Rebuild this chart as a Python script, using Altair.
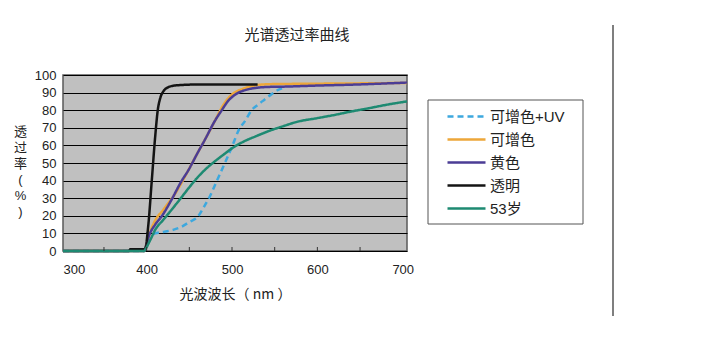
import altair as alt
import pandas as pd

FONT = "Liberation Sans, Noto Sans CJK SC, sans-serif"
CJK = "Noto Sans CJK SC, sans-serif"

series_names = ["可增色+UV", "可增色", "黄色", "透明", "53岁"]
colors = ["#3da8de", "#eda73a", "#4b3d95", "#141414", "#1e8a72"]
dashes = [[6, 4], [1, 0], [1, 0], [1, 0], [1, 0]]

uv_nm = [300, 397, 398, 404, 410, 421, 431, 441, 450, 460, 467, 474, 481, 488, 494, 500, 508, 516, 523, 530, 538, 546, 554, 560]
uv_t = [0, 0, 1, 7, 10, 11, 12, 13.8, 16.5, 19.5, 25, 31, 38.5, 46, 52.5, 59.3, 68.8, 74.4, 80, 83, 86, 89, 91.5, 92.6]

orange_nm = [300, 397, 398, 405, 412, 418, 425, 432, 440, 449, 460, 468, 480, 488, 495, 503, 512, 520, 530, 545, 580, 640, 705]
orange_t = [0, 0, 1, 12, 19, 22.5, 27, 31.5, 38, 46, 56, 63, 74, 81.5, 86.5, 90, 92, 93.3, 94.3, 94.8, 95, 95.2, 95.5]

yellow_nm = [300, 397, 398, 403, 410, 418, 429, 440, 449, 460, 468, 480, 488, 495, 503, 510, 519, 530, 542, 562, 600, 640, 680, 705]
yellow_t = [0, 0, 1, 9, 15, 20, 29, 39, 46, 56, 63, 74, 80, 85, 88.6, 90.5, 91.9, 92.8, 93.2, 93.4, 94, 94.5, 95.2, 95.7]

clear_nm = [300, 379, 381, 396, 398, 402, 406, 410, 413, 416, 420, 425, 430, 440, 460, 500, 530]
clear_t = [0, 0, 1, 1, 1, 15, 40, 65, 80, 87, 91, 93, 93.8, 94.3, 94.6, 94.6, 94.6]

age_nm = [300, 397, 398, 404, 410, 420, 429, 440, 449, 460, 468, 480, 488, 503, 515, 527, 545, 558, 577, 600, 620, 640, 659, 680, 705]
age_t = [0, 0, 0.6, 6, 12, 18, 23.3, 30, 35.6, 42, 46, 51, 54, 59.3, 62.5, 65, 68.5, 70.6, 73.5, 75.5, 77.3, 79.3, 81, 83, 85]

x_domain = [302, 705]
x_labels = [302, 400, 500, 600, 700]
x_ticks = [350, 400, 450, 500, 550, 600, 650]
y_labels = list(range(0, 101, 10))

rows = []
for name, nm, t in [
    (series_names[0], uv_nm, uv_t),
    (series_names[1], orange_nm, orange_t),
    (series_names[2], yellow_nm, yellow_t),
    (series_names[3], clear_nm, clear_t),
    (series_names[4], age_nm, age_t),
]:
    for a, b in zip(nm, t):
        rows.append({"series": name, "nm": a, "t": b})
df = pd.DataFrame(rows)

W, H = 344, 176

xscale = alt.Scale(domain=x_domain, nice=False, zero=False, clamp=True)
yscale = alt.Scale(domain=[0, 100], nice=False)

xaxis = alt.Axis(values=x_labels, tickSize=0, grid=False, domain=False,
                 labelExpr="datum.value < 350 ? '300' : datum.label",
                 labelPadding=12, labelFontSize=13, labelFont=FONT, labelColor="#222",
                 title="光波波长（ nm ）", titleFont=CJK, titleFontSize=14,
                 titleFontWeight="normal", titleColor="#222", titlePadding=11)
yaxis = alt.Axis(values=y_labels, tickSize=0, grid=True, gridColor="#000000",
                 gridWidth=1, gridOpacity=1, domain=False, labelPadding=7,
                 labelFontSize=13, labelFont=FONT, labelColor="#222",
                 title=["透", "过", "率", "(", "%", ")"], titleFont=FONT,
                 titleFontSize=13, titleFontWeight="normal", titleColor="#222",
                 titleAngle=0, titleAlign="center", titleBaseline="top",
                 titleX=-43, titleY=50, titleLineHeight=16)

color_scale = alt.Scale(domain=series_names, range=colors)
dash_scale = alt.Scale(domain=series_names, range=dashes)

legend = alt.Legend(title=None, orient="none", legendX=365, legendY=26,
                    padding=8,
                    labelFontSize=15, labelFont=FONT, labelColor="#222",
                    symbolType="M-1,0H6.6", symbolSize=100,
                    symbolStrokeWidth=2.5, symbolOffset=9, labelOffset=30,
                    rowPadding=7)

legend_box = alt.Chart(pd.DataFrame({"a": [0]})).mark_rect(
    fill="white", stroke="#555555", strokeWidth=1
).encode(
    x=alt.value(365), x2=alt.value(520),
    y=alt.value(25), y2=alt.value(149),
)

layers = []
for i, name in enumerate(series_names):
    layer = alt.Chart(df).transform_filter(alt.datum.series == name).mark_line(
        strokeWidth=2.5, interpolate="monotone"
    ).encode(
        x=alt.X("nm:Q", scale=xscale, axis=xaxis),
        y=alt.Y("t:Q", scale=yscale, axis=yaxis),
        color=alt.Color("series:N", scale=color_scale, legend=legend, sort=series_names),
        strokeDash=alt.StrokeDash("series:N", scale=dash_scale, legend=legend, sort=series_names),
    )
    layers.append(layer)

ticks = alt.Chart(pd.DataFrame({"nm": x_ticks})).mark_rule(
    color="#333", strokeWidth=1
).encode(
    x=alt.X("nm:Q", scale=xscale, axis=xaxis),
    y=alt.value(H),
    y2=alt.value(H - 4),
)

vline = alt.Chart(pd.DataFrame({"a": [0]})).mark_rule(
    color="#555555", strokeWidth=1.5
).encode(
    x=alt.value(550),
    y=alt.value(-50),
    y2=alt.value(241),
)

chart = alt.layer(legend_box, *layers, ticks, vline).properties(
    width=W, height=H,
    title=alt.TitleParams("光谱透过率曲线", font=CJK, fontSize=15,
                          fontWeight="normal", color="#222", anchor="start",
                          dx=231, offset=0, dy=19),
    autosize=alt.AutoSizeParams(type="none"),
    padding={"left": 55, "top": 67, "right": 280, "bottom": 75},
).configure_view(
    fill="#c0c0c0", stroke="#5a5a5a", strokeWidth=1.5
)

chart.save("out.html", embed_options={"renderer": "svg", "actions": False})
